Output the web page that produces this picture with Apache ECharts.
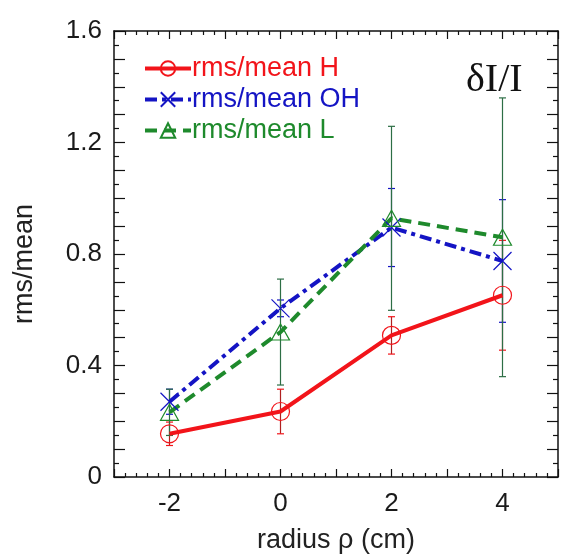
<!DOCTYPE html>
<html>
<head>
<meta charset="utf-8">
<script src="https://cdn.jsdelivr.net/npm/echarts@6/dist/echarts.min.js"></script>
<style>html,body{margin:0;padding:0;background:#fff;}#c{width:561px;height:559px;}</style>
</head>
<body>
<div id="c"></div>
<script>
// ---- data ----
var radius = [-2, 0, 2, 4];
var hMean = [0.155, 0.235, 0.508, 0.652];
var hErr = [0.042, 0.08, 0.067, 0.197];
var ohMean = [0.27, 0.605, 0.895, 0.775];
var ohErr = [0.045, 0.03, 0.14, 0.22];
var lMean = [0.232, 0.52, 0.928, 0.86];
var lErr = [0.083, 0.19, 0.33, 0.5];
var seriesNames = ['rms/mean H', 'rms/mean OH', 'rms/mean L'];
var xTickLabels = [-2, 0, 2, 4];
var yTickLabels = [0, 0.4, 0.8, 1.2, 1.6];

var RED = '#f2141a', BLUE = '#1414c4', GREEN = '#1e8a2c';
var FONT = '"Liberation Sans", Arial, Helvetica, sans-serif';

function pts(means) { return radius.map(function (x, i) { return [x, means[i]]; }); }
function errs(means, e) { return radius.map(function (x, i) { return [x, means[i] - e[i], means[i] + e[i]]; }); }

function errSeries(data, color, barColor) {
  return {
    type: 'custom', xAxisIndex: 0, yAxisIndex: 0, z: 1, silent: true,
    data: data,
    renderItem: function (params, api) {
      var x = api.value(0);
      var lo = api.coord([x, api.value(1)]);
      var hi = api.coord([x, api.value(2)]);
      var w = 3.5;
      return {
        type: 'group',
        children: [
          { type: 'line', shape: { x1: lo[0], y1: lo[1], x2: hi[0], y2: hi[1] }, style: { stroke: barColor, lineWidth: 1.2 } },
          { type: 'line', shape: { x1: lo[0] - w, y1: lo[1], x2: lo[0] + w, y2: lo[1] }, style: { stroke: color, lineWidth: 1.2 } },
          { type: 'line', shape: { x1: hi[0] - w, y1: hi[1], x2: hi[0] + w, y2: hi[1] }, style: { stroke: color, lineWidth: 1.2 } }
        ]
      };
    }
  };
}

var chart = echarts.init(document.getElementById('c'), null, { renderer: 'canvas' });
var axisLineStyle = { color: '#111', width: 1.5 };
var tickStyle = { color: '#111', width: 1.2 };
var option = {
  animation: false,
  backgroundColor: '#fff',
  textStyle: { fontFamily: FONT },
  grid: { left: 114, top: 31, right: 3, bottom: 81, containLabel: false },
  legend: {
    orient: 'vertical', left: 138, top: 50,
    itemWidth: 46, itemHeight: 18, itemGap: 4,
    lineStyle: { width: 4 },
    textStyle: { fontSize: 27, fontFamily: FONT, padding: [0, 0, 0, -4] },
    data: [
      { name: seriesNames[0], textStyle: { color: RED } },
      { name: seriesNames[1], textStyle: { color: BLUE } },
      { name: seriesNames[2], textStyle: { color: GREEN } }
    ]
  },
  graphic: [
    { type: 'text', left: 466, top: 60, style: { text: 'δI/I', font: '40px "Liberation Serif", "Times New Roman", serif', fill: '#111' } }
  ],
  xAxis: [
    {
      type: 'value', position: 'bottom', min: -3, max: 5, interval: 1,
      name: 'radius ρ (cm)', nameLocation: 'middle', nameGap: 50,
      nameTextStyle: { fontSize: 27, color: '#222', fontFamily: FONT },
      axisLine: { show: true, onZero: false, lineStyle: axisLineStyle },
      axisTick: { show: true, inside: true, length: 8, lineStyle: tickStyle },
      minorTick: { show: true, splitNumber: 5, length: 4, lineStyle: tickStyle },
      axisLabel: {
        fontSize: 26, color: '#1a1a1a', margin: 14, fontFamily: FONT,
        formatter: function (v) { return xTickLabels.indexOf(Math.round(v)) >= 0 && Math.abs(v - Math.round(v)) < 1e-6 ? String(Math.round(v)) : ''; }
      },
      splitLine: { show: false }
    },
    {
      type: 'value', position: 'top', min: -3, max: 5, interval: 1,
      axisLine: { show: true, onZero: false, lineStyle: axisLineStyle },
      axisTick: { show: true, inside: true, length: 8, lineStyle: tickStyle },
      minorTick: { show: true, splitNumber: 5, length: 4, lineStyle: tickStyle },
      axisLabel: { show: false }, splitLine: { show: false }
    }
  ],
  yAxis: [
    {
      type: 'value', position: 'left', min: 0, max: 1.6, interval: 0.1,
      name: 'rms/mean', nameLocation: 'middle', nameGap: 76,
      nameTextStyle: { fontSize: 27, color: '#222', fontFamily: FONT, padding: [0, 20, 0, 0] },
      axisLine: { show: true, onZero: false, lineStyle: axisLineStyle },
      axisTick: { show: true, inside: true, length: 11, lineStyle: tickStyle },
      minorTick: { show: true, splitNumber: 2, length: 5, lineStyle: tickStyle },
      axisLabel: {
        fontSize: 26, color: '#1a1a1a', margin: 12, fontFamily: FONT, padding: [0, 0, 12, 0],
        formatter: function (v) {
          var r = Math.round(v * 10) / 10;
          for (var i = 0; i < yTickLabels.length; i++) { if (Math.abs(yTickLabels[i] - r) < 1e-6 && Math.abs(v - r) < 1e-6) return String(yTickLabels[i]); }
          return '';
        }
      },
      splitLine: { show: false }
    },
    {
      type: 'value', position: 'right', min: 0, max: 1.6, interval: 0.1,
      axisLine: { show: true, onZero: false, lineStyle: axisLineStyle },
      axisTick: { show: true, inside: true, length: 11, lineStyle: tickStyle },
      minorTick: { show: true, splitNumber: 2, length: 5, lineStyle: tickStyle },
      axisLabel: { show: false }, splitLine: { show: false }
    }
  ],
  series: [
    errSeries(errs(hMean, hErr), RED, '#b02020'),
    errSeries(errs(ohMean, ohErr), BLUE, '#2a3a8a'),
    errSeries(errs(lMean, lErr), '#2d6e45', '#2d6e45'),
    {
      name: seriesNames[0], type: 'line', data: pts(hMean), z: 5,
      symbol: 'circle', symbolSize: 18, showSymbol: true,
      lineStyle: { color: RED, width: 4, type: 'solid' },
      itemStyle: { color: 'rgba(0,0,0,0)', borderColor: RED, borderWidth: 1.2 }
    },
    {
      name: seriesNames[1], type: 'line', data: pts(ohMean), z: 4,
      symbol: 'path://M0,0L10,10M10,0L0,10', symbolSize: 18, showSymbol: true,
      lineStyle: { color: BLUE, width: 4, type: [12, 5, 4, 5] },
      itemStyle: { color: 'rgba(0,0,0,0)', borderColor: BLUE, borderWidth: 1.2 }
    },
    {
      name: seriesNames[2], type: 'line', data: pts(lMean), z: 4,
      symbol: 'triangle', symbolSize: [18, 16], showSymbol: true,
      lineStyle: { color: GREEN, width: 4, type: [12, 7] },
      itemStyle: { color: 'rgba(0,0,0,0)', borderColor: GREEN, borderWidth: 1.2 }
    }
  ]
};
chart.setOption(option);
</script>
</body>
</html>
